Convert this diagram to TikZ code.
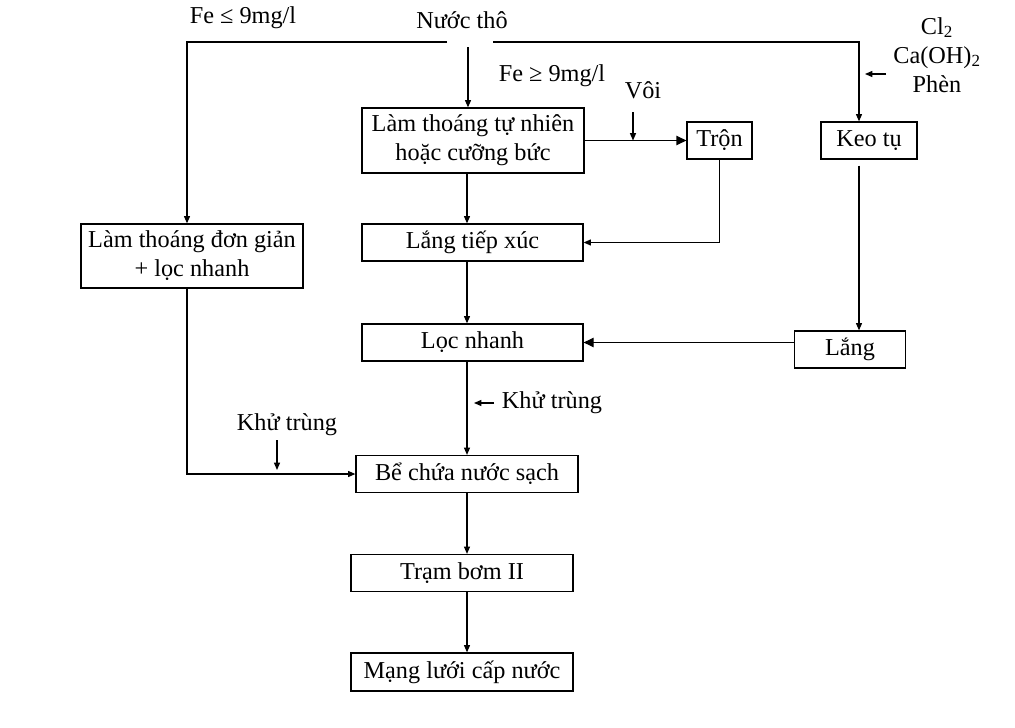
\documentclass[tikz,border=0pt]{standalone}
\usepackage{fontspec}
\setmainfont{Liberation Serif}
\usepackage{tikz}
\usetikzlibrary{positioning, arrows, arrows.meta}

\tikzset{
    box/.style={draw, line width=0.9pt, align=center, inner sep=2pt,
        minimum height=27.75pt},
    lbl/.style={align=center, inner sep=0pt},
    >={Triangle[length=5.5pt, width=4.5pt]},
    big/.style={-{Triangle[length=7.5pt, width=7pt]}}
}

\begin{document}
\begin{tikzpicture}[x=0.75pt, y=-0.75pt, line width=0.9pt,
        font=\fontsize{18.2}{21.8}\selectfont]
            \useasboundingbox (0, 0) rectangle (1015, 728);

            % boxes
            \node [box, minimum width=166.5pt, minimum height=48.75pt] (thoang) at (473, 140.5) {Làm thoáng tự nhiên\\hoặc cưỡng bức};
            \node [box, minimum width=48.75pt] (tron) at (719.5, 140.5) {Trộn};
            \node [box, minimum width=72pt] (keotu) at (869, 140.5) {Keo tụ};
            \node [box, minimum width=166.5pt, minimum height=48pt] (donggian) at (192, 256) {Làm thoáng đơn giản\\+ lọc nhanh};
            \node [box, minimum width=165.75pt] (tiepxuc) at (472.5, 242.5) {Lắng tiếp xúc};
            \node [box, minimum width=165.75pt] (loc) at (472.5, 342.5) {Lọc nhanh};
            \node [box, minimum width=83.25pt] (lang) at (850, 349.5) {Lắng};
            \node [box, minimum width=166.5pt] (bechua) at (467, 474) {Bể chứa nước sạch};
            \node [box, minimum width=166.5pt] (trambom) at (462, 573) {Trạm bơm II};
            \node [box, minimum width=166.5pt, minimum height=28.5pt] (mangluoi) at (462, 672) {Mạng lưới cấp nước};

            % labels
            \node [lbl] (fele) at (243, 18) {Fe ≤ 9mg/l};
            \node [lbl] (nuoctho) at (462, 20) {Nước thô};
            \node [lbl] (fege) at (552, 76) {Fe ≥ 9mg/l};
            \node [lbl] (voi) at (643, 90) {Vôi};
            \node [lbl] (hoachat) at (937, 55) {Cl\textsubscript{2}\\Ca(OH)\textsubscript{2}\\Phèn};
            \node [lbl] (khutrungA) at (287, 425) {Khử trùng};
            \node [lbl] (khutrungB) at (552, 403) {Khử trùng};

            \coordinate (spine) at (467, 0);
            \coordinate (leftx) at (187, 0);
            \coordinate (keox) at (859, 0);
            \coordinate (topL) at (447, 42);
            \coordinate (topR) at (493, 42);
            \coordinate (ntin) at (468, 47);
            \coordinate (voiin) at (633, 112);
            \coordinate (chemin) at (886, 74);
            \coordinate (chemout) at (865, 74);
            \coordinate (ktBin) at (494, 403);
            \coordinate (ktBout) at (474, 403);
            \coordinate (ktAin) at (277, 440);
            \coordinate (ktAout) at (277, 470);

            \draw [->] (topL) -| (donggian.north -| leftx);
            \draw [->] (topR) -| (keotu.north -| keox);
            \draw [->] (ntin) -- (thoang.north -| ntin);
            \draw [big] (thoang.east) -- (tron.west);
            \draw [->] (voiin) -- (voiin |- thoang.east);
            \draw [->] (chemin) -- (chemout);
            \draw [->] (tron.south) |- (tiepxuc.east);
            \draw [->] ([yshift=-4.5pt]keotu.south -| keox) -- (lang.north -| keox);
            \draw [big] (lang.west |- loc.east) -- (loc.east);
            \draw [->] (thoang.south -| spine) -- (tiepxuc.north -| spine);
            \draw [->] (tiepxuc.south -| spine) -- (loc.north -| spine);
            \draw [->] (loc.south -| spine) -- (bechua.north -| spine);
            \draw [->] (ktBin) -- (ktBout);
            \draw [->] (donggian.south -| leftx) |- (bechua.west);
            \draw [->] (ktAin) -- (ktAout);
            \draw [->] (bechua.south -| spine) -- (trambom.north -| spine);
            \draw [->] (trambom.south -| spine) -- (mangluoi.north -| spine);
        \end{tikzpicture}
\end{document}
